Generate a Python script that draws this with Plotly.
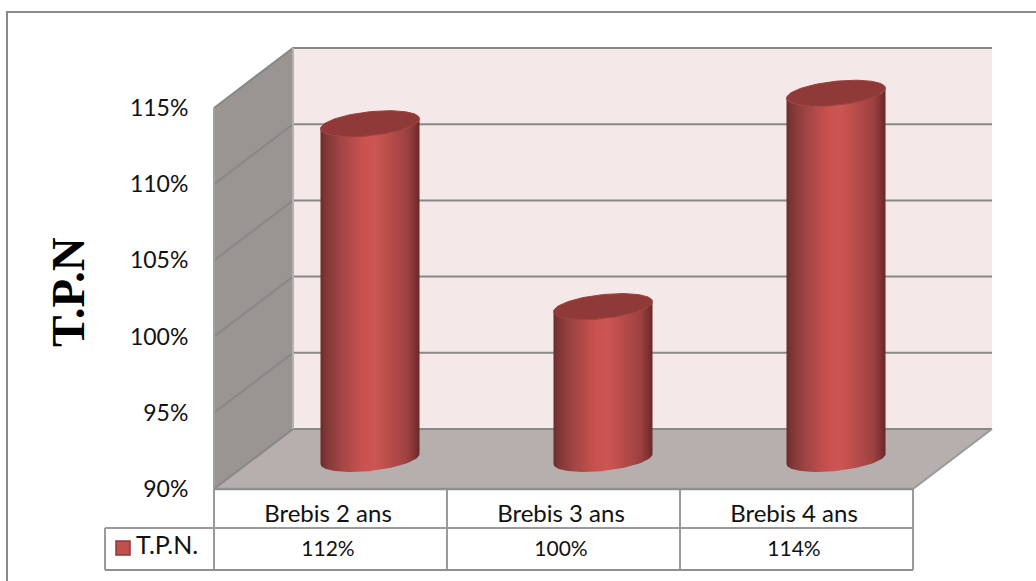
import numpy as np
import plotly.graph_objects as go

# Data
categories = ['Brebis 2 ans', 'Brebis 3 ans', 'Brebis 4 ans']
series_name = 'T.P.N.'
tpn_values = [112, 100, 114]
y_ticks = [90, 95, 100, 105, 110, 115]
axis_title = 'T.P.N'

WIDTH, HEIGHT = 1036, 581
FONT = 'Lato'
LINE = '#8f8f8f'

# one category = 233 px, 1% = 15.24 px, category 0 starts at x=214, 90% sits at y=489
X_UNIT = 233.0
Y_UNIT = 15.24


def px(x):
    return (x - 214) / X_UNIT


def py(y):
    return 90 + (489 - y) / Y_UNIT


DEPTH_X = 79 / X_UNIT
DEPTH_Y = 60 / Y_UNIT
Y_MIN, Y_MAX = y_ticks[0], y_ticks[-1]
N_CAT = len(categories)
LABEL_X = [k + 0.5 - 2.5 / X_UNIT for k in range(N_CAT)]

fig = go.Figure()


def poly(xs, ys, fill=None, line=LINE, width=2, gradient=None):
    kw = dict(x=xs, y=ys, mode='lines', hoverinfo='skip', showlegend=False)
    kw['line'] = dict(color=line or 'rgba(0,0,0,0)', width=width if line else 0)
    if fill or gradient:
        kw['fill'] = 'toself'
    if fill:
        kw['fillcolor'] = fill
    if gradient:
        kw['fillgradient'] = dict(type='horizontal', colorscale=gradient)
    fig.add_trace(go.Scatter(**kw))


# Walls and floor
poly([DEPTH_X, N_CAT + DEPTH_X + 0.0, N_CAT + DEPTH_X, DEPTH_X, DEPTH_X],
     [Y_MIN + DEPTH_Y, Y_MIN + DEPTH_Y, Y_MAX + DEPTH_Y, Y_MAX + DEPTH_Y, Y_MIN + DEPTH_Y],
     fill='#f4e8e8', line=None)
poly([0, DEPTH_X, DEPTH_X, 0, 0],
     [Y_MIN, Y_MIN + DEPTH_Y, Y_MAX + DEPTH_Y, Y_MAX, Y_MIN],
     fill='#9a9493', line=None)
poly([0, N_CAT, N_CAT + DEPTH_X, DEPTH_X, 0],
     [Y_MIN, Y_MIN, Y_MIN + DEPTH_Y, Y_MIN + DEPTH_Y, Y_MIN],
     fill='#b7aeae', line=None)

# Gridlines across side wall and back wall
for tick in y_ticks:
    poly([0, DEPTH_X, N_CAT + DEPTH_X], [tick, tick + DEPTH_Y, tick + DEPTH_Y], line='#868987')
poly([0, 0], [Y_MIN, Y_MAX], line='#a3a09f')
poly([DEPTH_X, DEPTH_X], [Y_MIN + DEPTH_Y, Y_MAX + DEPTH_Y], line='#b4b1b1')
poly([N_CAT, N_CAT + DEPTH_X], [Y_MIN, Y_MIN + DEPTH_Y], line='#9a9a9a')

# Cylinders, centred half way through the depth
BODY_SCALE = [
    [0.0, '#6b2b2a'], [0.05, '#7e3635'], [0.2, '#a04544'], [0.42, '#c9514f'],
    [0.55, '#cd5553'], [0.72, '#b54b49'], [0.88, '#9c4140'], [0.96, '#7c3130'], [1.0, '#662726'],
]
HALF_W = 49.5 / X_UNIT
TILT = 5 / Y_UNIT
MINOR = 12 / Y_UNIT

for i, value in enumerate(tpn_values):
    cx = i + 0.5 + DEPTH_X / 2
    base = Y_MIN + DEPTH_Y / 2
    top = value + DEPTH_Y / 2
    low = np.linspace(np.pi, 2 * np.pi, 60)
    ring = np.linspace(0, 2 * np.pi, 120)
    arc_x = cx + HALF_W * np.cos(low)
    arc_y = TILT * np.cos(low) + MINOR * np.sin(low)
    body_x = np.concatenate([arc_x, arc_x[::-1]])
    body_y = np.concatenate([base + arc_y, top + arc_y[::-1]])
    poly(body_x.tolist() + [body_x[0]], body_y.tolist() + [body_y[0]], gradient=BODY_SCALE, line=None)
    poly(cx + HALF_W * np.cos(ring), top + TILT * np.cos(ring) + MINOR * np.sin(ring),
         fill='#8f3a38', line='#9a403e', width=1)

# Data table grid
TABLE_MID, TABLE_BOT = py(528), py(570)
for k in range(N_CAT + 1):
    poly([k, k], [Y_MIN, TABLE_BOT], line='#9a9a9a')
poly([px(105), N_CAT], [TABLE_MID, TABLE_MID], line='#9a9a9a')
poly([px(105), N_CAT], [TABLE_BOT, TABLE_BOT], line='#8f8f8f')
poly([px(105), px(105)], [TABLE_MID, TABLE_BOT], line='#9a9a9a')
poly([0, N_CAT], [Y_MIN, Y_MIN], line='#8f8f8f', width=2.5)

# Table values and legend key
fig.add_trace(go.Scatter(
    x=LABEL_X, y=[py(551)] * N_CAT,
    text=[f'{v}%' for v in tpn_values], mode='text',
    textfont=dict(family=FONT, size=21, color='#111111'),
    hoverinfo='skip', showlegend=False,
))
fig.add_trace(go.Scatter(
    x=[px(123)], y=[py(548)], text=['\u2009' + series_name], mode='markers+text',
    textposition='middle right',
    marker=dict(symbol='square', size=14, color='#c0504d', line=dict(color='#8c3836', width=1.5)),
    textfont=dict(family=FONT, size=25, color='#111111'),
    hoverinfo='skip', showlegend=False,
))

# Chart frame
poly([px(7), px(7), px(1036)], [py(581), py(12), py(12)], line='#8a8a8a')

fig.add_annotation(
    x=px(68), y=py(292), text=f'<b>{axis_title}</b>', textangle=-90, showarrow=False,
    font=dict(family='Liberation Serif', size=47, color='#000000'),
)

fig.update_layout(
    width=WIDTH, height=HEIGHT, margin=dict(l=0, r=0, t=0, b=0), autosize=False,
    paper_bgcolor='white', plot_bgcolor='white', showlegend=False,
    xaxis=dict(
        range=[px(0), px(WIDTH)], anchor='free', position=1 - 489 / HEIGHT,
        tickvals=LABEL_X, ticktext=categories,
        ticks='outside', ticklen=3, tickcolor='rgba(0,0,0,0)',
        tickfont=dict(family=FONT, size=24, color='#111111'),
        showgrid=False, zeroline=False, showline=False, fixedrange=True,
    ),
    yaxis=dict(
        range=[py(HEIGHT), py(0)], anchor='free', position=214 / WIDTH,
        tickvals=y_ticks, ticktext=[f'{t}%' for t in y_ticks],
        ticks='outside', ticklen=21, tickcolor='rgba(0,0,0,0)',
        tickfont=dict(family=FONT, size=23, color='#111111'),
        showgrid=False, zeroline=False, showline=False, fixedrange=True,
    ),
)

# the default page keeps an 8 px body margin
fig.write_html('out.html', config={'displayModeBar': False},
               post_script="document.body.style.margin = '0';")
